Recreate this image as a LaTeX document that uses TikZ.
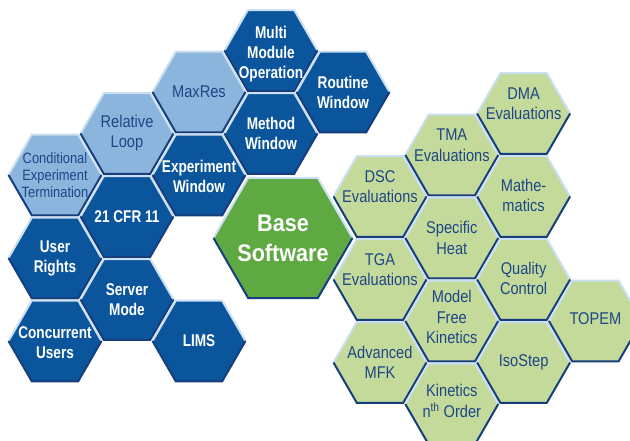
\documentclass[tikz,border=0pt]{standalone}
\usepackage{fontspec}
\setmainfont{Liberation Sans}
\newfontfamily\hexreg[FakeStretch=0.86]{Liberation Sans}
\newfontfamily\hexbold[FakeStretch=0.8]{Liberation Sans}
\newfontfamily\basefont[FakeStretch=0.9]{Liberation Sans}
\definecolor{navy}{HTML}{0B559C}
\definecolor{sky}{HTML}{8BB5DC}
\definecolor{sage}{HTML}{C3DA9A}
\definecolor{leaf}{HTML}{5EA942}
\definecolor{rim}{HTML}{CADFF1}
\definecolor{deep}{HTML}{173E7C}
\definecolor{inkblue}{HTML}{1E4686}

\begin{document}
\begin{tikzpicture}[x=1pt, y=1pt,
          dk-fill/.style={fill=navy},
          lt-fill/.style={fill=sky},
          lts-fill/.style={fill=sky},
          gr-fill/.style={fill=sage},
          dk-txt/.style={text=white, align=center, font=\hexbold\bfseries\fontsize{17}{20}\selectfont},
          lt-txt/.style={text=inkblue, align=center, font=\hexreg\fontsize{17}{20}\selectfont},
          lts-txt/.style={text=inkblue, align=center, font=\hexreg\fontsize{15}{17}\selectfont},
          gr-txt/.style={text=inkblue, align=center, font=\hexreg\fontsize{17}{20.5}\selectfont},
          base-txt/.style={text=white, align=center, font=\basefont\bfseries\fontsize{24}{30}\selectfont},
          rimhi/.style={draw=rim, line width=2pt},
          rimlo/.style={draw=deep, line width=2pt}]
        \useasboundingbox (0,0) rectangle (630,-441);
        \clip (0,0) rectangle (630,-441);
        \def\hexr{46.5}
        % cells: name / x / y (down) / kind / text shift / label
        \foreach \id/\x/\y/\kind/\dy/\txt in {
            cond/55/175/lts/0/Conditional\\Experiment\\Termination,
            relloop/127/133.5/lt/0/Relative\\Loop,
            maxres/199/92/lt/0/MaxRes,
            user/55/258/dk/0/User\\Rights,
            concur/55/341/dk/-2/Concurrent\\Users,
            cfr/127/216.5/dk/0/21 CFR 11,
            server/127/299.5/dk/0/Server\\Mode,
            expwin/199/175/dk/-1/Experiment\\Window,
            lims/199/341/dk/0/LIMS,
            multi/271/50.5/dk/-4/Multi\\Module\\Operation,
            method/271/133.5/dk/0/Method\\Window,
            routine/343/92/dk/0/Routine\\Window,
            dsc/380/196.5/gr/10/DSC\\Evaluations,
            tga/380/279.5/gr/10/TGA\\Evaluations,
            amfk/380/362.5/gr/0/Advanced\\MFK,
            tma/451.8/155/gr/10/TMA\\Evaluations,
            heat/451.8/238/gr/0/Specific\\Heat,
            mfk/451.8/321/gr/4/Model\\Free\\Kinetics,
            kin/451.8/404/gr/3/Kinetics\\n\textsuperscript{th} Order,
            dma/523.6/113.5/gr/10/DMA\\Evaluations,
            math/523.6/196.5/gr/1/Mathe-\\matics,
            qc/523.6/279.5/gr/1/Quality\\Control,
            iso/523.6/362.5/gr/0/IsoStep,
            topem/595.4/321/gr/2/TOPEM}{
          \fill[\kind-fill] ([shift={(180:\hexr)}]\x,-\y) -- ++(60:\hexr) -- ++(0:\hexr)
              -- ++(-60:\hexr) -- ++(-120:\hexr) -- ++(180:\hexr) -- cycle;
          \draw[rimhi] ([shift={(180:\hexr)}]\x,-\y) -- ++(60:\hexr) -- ++(0:\hexr) -- ++(-60:\hexr);
          \draw[rimlo] ([shift={(180:\hexr)}]\x,-\y) -- ++(-60:\hexr) -- ++(0:\hexr) -- ++(60:\hexr);
          \node[\kind-txt, yshift=\dy] (\id) at (\x,-\y) {\txt};}
        % the big one in the middle
        \def\baser{69.5}
        \fill[leaf] ([shift={(180:\baser)}]283,-238) -- ++(60:\baser) -- ++(0:\baser)
            -- ++(-60:\baser) -- ++(-120:\baser) -- ++(180:\baser) -- cycle;
        \draw[rimhi] ([shift={(180:\baser)}]283,-238) -- ++(60:\baser) -- ++(0:\baser) -- ++(-60:\baser);
        \draw[rimlo] ([shift={(180:\baser)}]283,-238) -- ++(-60:\baser) -- ++(0:\baser) -- ++(60:\baser);
        \node[base-txt] (base) at (283,-238) {Base\\Software};
      \end{tikzpicture}
\end{document}
